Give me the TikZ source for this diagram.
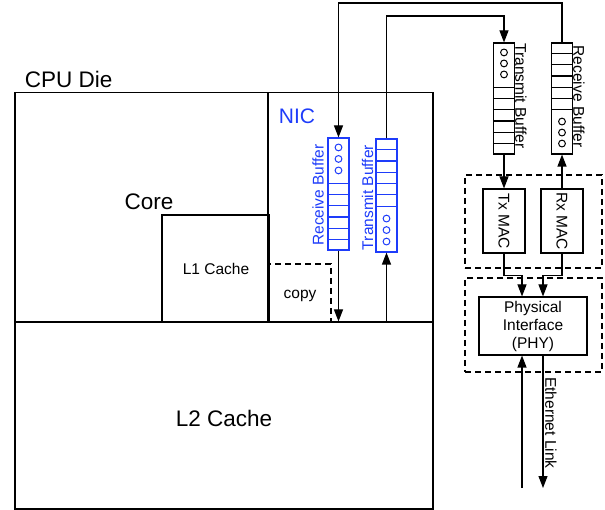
\documentclass[tikz,border=0pt]{standalone}
\usepackage{fontspec}
\setmainfont{Liberation Sans}
\usetikzlibrary{arrows.meta}
\definecolor{nicblue}{RGB}{30,60,250}
\begin{document}
\begin{tikzpicture}[x=1pt,y=-1pt,line width=1.1pt,
  rbox/.style={draw,rectangle,inner sep=0pt},
  dbox/.style={draw,rectangle,inner sep=0pt,dash pattern=on 6pt off 4pt},
  bigtxt/.style={font=\fontsize{22.5}{27}\selectfont},
  smtxt/.style={font=\fontsize{15.5}{18}\selectfont},
  buf/.style={draw,rectangle,inner sep=0pt,minimum width=21pt},
  arr/.style={-{Triangle[length=12pt,width=9pt]}}]
\useasboundingbox (0,0) rectangle (605,510);

% copy (dashed) first so solid lines overlay it
\node[dbox,minimum width=62pt,minimum height=58pt] (copy) at (300,293) {};
% CPU die and its regions
\node[rbox,minimum width=418pt,minimum height=416.3pt] (cpu) at (224,300.85) {};
\node[rbox,minimum width=253pt,minimum height=229.3pt] (core) at (141.5,207.35) {};
\node[rbox,minimum width=165pt,minimum height=229.3pt] (nic) at (350.5,207.35) {};
\node[rbox,minimum width=418pt,minimum height=187pt] (l2) at (224,415.5) {};
\node[rbox,minimum width=107pt,minimum height=107pt] (l1) at (215.5,268.5) {};

% labels
\node[bigtxt,anchor=base west] (cpulbl) at (21,87.3) {CPU Die};
\node[bigtxt,anchor=base] (corelbl) at (149,209.5) {Core};
\node[bigtxt,anchor=base] (l2lbl) at (224,426.7) {L2 Cache};
\node[font=\fontsize{21}{25}\selectfont,anchor=base,text=nicblue] (niclbl) at (297,124) {NIC};
\node[smtxt,anchor=base] (l1lbl) at (216,275) {L1 Cache};
\node[smtxt,anchor=base] (copylbl) at (300,299) {copy};

% NIC buffers (blue)
\node[buf,draw=nicblue,minimum height=112pt] (rb) at (338.5,194) {};
\foreach \k in {1,...,6}
  \draw[nicblue] ([yshift=\k*11.17pt]rb.south west) -- ([yshift=\k*11.17pt]rb.south east);
\foreach \d in {10,21.5,33}
  \draw[nicblue,line width=1pt] ([yshift=-\d pt]rb.north) circle[radius=3.4pt];
\node[buf,draw=nicblue,minimum height=113pt] (tb) at (386.5,195.5) {};
\foreach \k in {1,...,6}
  \draw[nicblue] ([yshift=-\k*11.3pt]tb.north west) -- ([yshift=-\k*11.3pt]tb.north east);
\foreach \d in {11,22.5,34}
  \draw[nicblue,line width=1pt] ([yshift=\d pt]tb.south) circle[radius=3.4pt];
\node[smtxt,rotate=90,text=nicblue] (rblbl) at (318,195) {Receive Buffer};
\node[smtxt,rotate=90,text=nicblue] (tblbl) at (367.5,197.5) {Transmit Buffer};

% external buffers
\node[buf,minimum height=111pt] (etb) at (504,98.5) {};
\foreach \k in {1,...,6}
  \draw ([yshift=\k*11.17pt]etb.south west) -- ([yshift=\k*11.17pt]etb.south east);
\foreach \d in {10,21,32}
  \draw[line width=1pt] ([yshift=-\d pt]etb.north) circle[radius=3.4pt];
\node[buf,minimum height=111pt] (erb) at (562,98.5) {};
\foreach \k in {1,...,6}
  \draw ([yshift=-\k*11.17pt]erb.north west) -- ([yshift=-\k*11.17pt]erb.north east);
\foreach \d in {11,22,33}
  \draw[line width=1pt] ([yshift=\d pt]erb.south) circle[radius=3.4pt];
\node[smtxt,rotate=-90] (etblbl) at (521,96) {Transmit Buffer};
\node[smtxt,rotate=-90] (erblbl) at (579,96.5) {Receive Buffer};

% MAC and PHY groups
\node[dbox,minimum width=137pt,minimum height=93pt] (macgrp) at (533.5,221.5) {};
\node[dbox,minimum width=137pt,minimum height=94pt] (phygrp) at (533.5,325) {};
\node[rbox,minimum width=42pt,minimum height=64pt] (tmac) at (504,221) {};
\node[smtxt,rotate=-90] (tmaclbl) at (tmac.center) {Tx MAC};
\node[rbox,minimum width=42pt,minimum height=64pt] (rmac) at (562,221) {};
\node[smtxt,rotate=-90] (rmaclbl) at (rmac.center) {Rx MAC};
\node[rbox,minimum width=108pt,minimum height=58pt,smtxt,align=center] (phy) at (533,326) {Physical\\Interface\\(PHY)};

% connectors
\coordinate (toprx) at (0,3);
\coordinate (toptx) at (0,16);
\coordinate (ethin) at (522,488);
\coordinate (ethout) at (543,488);
\draw[arr] (erb.north) -- (erb.north |- toprx) -| (rb.north);
\draw[arr] (rb.south) -- (rb.south |- l2.north);
\draw[arr] (tb.south |- l2.north) -- (tb.south);
\draw[arr] (tb.north) -- (tb.north |- toptx) -| (etb.north);
\draw[arr] (etb.south) -- (tmac.north);
\draw[arr] (rmac.north) -- (erb.south);
\draw[arr] (tmac.south) -- ++(0,22) -| ([xshift=-11pt]phy.north);
\draw[arr] (rmac.south) -- ++(0,22) -| ([xshift=10pt]phy.north);
\draw[arr] (ethin) -- (ethin |- phy.south);
\draw[arr] (ethout |- phy.south) -- (ethout);
\node[smtxt,rotate=-90] (ethlbl) at (551,423) {Ethernet Link};
\end{tikzpicture}
\end{document}
